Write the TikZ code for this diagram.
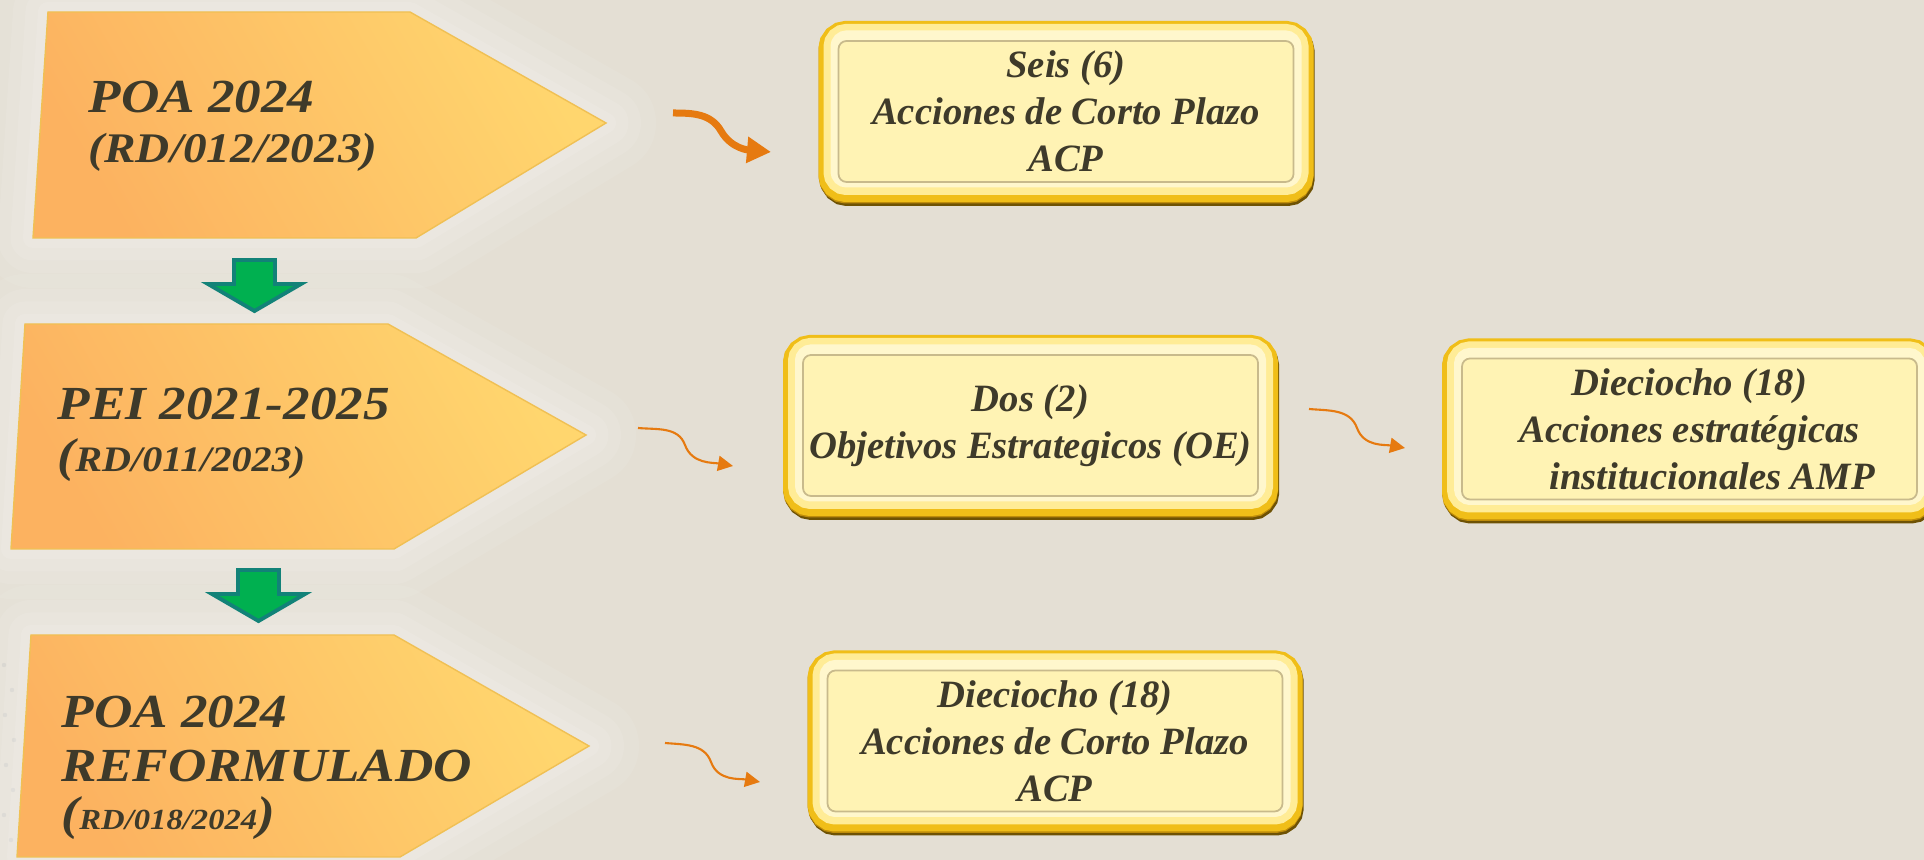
\documentclass[tikz,border=0pt]{standalone}
\usepackage{fontspec}
\newfontfamily\labelfont[FakeStretch=1.12]{Liberation Serif}
\newfontfamily\boxfont{Liberation Serif}
\usetikzlibrary{arrows.meta}

\definecolor{bg}{RGB}{228,223,212}
\definecolor{penttop}{RGB}{255,214,110}
\definecolor{pentbot}{RGB}{252,178,96}
\definecolor{pentline}{RGB}{240,192,84}
\definecolor{ink}{RGB}{62,58,42}
\definecolor{arrowor}{RGB}{230,122,16}
\definecolor{downfill}{RGB}{0,176,80}
\definecolor{downline}{RGB}{18,130,120}
\definecolor{boxfill}{RGB}{255,243,180}
\definecolor{boxline}{RGB}{200,186,140}
\definecolor{goldshade}{RGB}{110,82,4}
\definecolor{golddeep}{RGB}{190,140,10}
\definecolor{goldrim}{RGB}{240,190,24}
\definecolor{goldlight}{RGB}{255,236,150}
\definecolor{goldpale}{RGB}{255,247,205}

\tikzset{
  pentagon/.style={draw=pentline, line width=0.4pt,
    top color=penttop, bottom color=pentbot, shading angle=-60,
    preaction={draw=white, draw opacity=0.07, line width=1.0cm, line join=round},
    preaction={draw=white, draw opacity=0.08, line width=0.7cm, line join=round},
    preaction={draw=white, draw opacity=0.09, line width=0.45cm, line join=round},
    preaction={draw=white, draw opacity=0.10, line width=0.2cm, line join=round}},
  pentlabel/.style={anchor=base west, inner sep=0pt, text=ink,
    font=\labelfont\bfseries\itshape\fontsize{13.5}{16}\selectfont},
  goldbox/.style={rounded corners=0.08cm, minimum width=4.55cm, minimum height=1.41cm,
    inner sep=0pt, align=center, text=ink,
    font=\boxfont\bfseries\itshape\fontsize{11}{13.4}\selectfont,
    preaction={draw=goldshade, line width=0.40cm, transform canvas={xshift=0.012cm,yshift=-0.04cm}},
    preaction={draw=golddeep, line width=0.40cm, transform canvas={yshift=-0.015cm}},
    preaction={draw=goldrim, line width=0.40cm},
    preaction={draw=goldlight, line width=0.30cm, transform canvas={yshift=0.02cm}},
    preaction={draw=goldpale, line width=0.16cm, transform canvas={yshift=0.025cm}},
    fill=boxfill, draw=boxline, line width=0.5pt},
  downarrow/.style={fill=downfill, draw=downline, line width=1.1pt, line join=miter},
  curl/.style={draw=arrowor, line width=0.6pt, -{Triangle[length=0.15cm,width=0.15cm]}},
  bigcurl/.style={draw=arrowor, line width=0.07cm, -{Triangle[length=0.24cm,width=0.25cm]}},
}

\begin{document}
\begin{tikzpicture}[x=1cm,y=1cm]
  \useasboundingbox (0,0) rectangle (19.24,8.6);
  \fill[bg] (0,0) rectangle (19.24,8.6);

  % faint dots on the left margin
  \foreach \dx/\dy in {0.04/1.95, 0.12/1.70, 0.05/1.45, 0.14/1.20, 0.06/0.95, 0.13/0.70, 0.04/0.45, 0.11/0.20}
    \fill[gray!45, opacity=0.5] (\dx,\dy) circle (0.022);

  % the three pointed labels
  \path[pentagon] (0.48,8.48) -- (4.10,8.48) -- (6.06,7.37) -- (4.16,6.22) -- (0.33,6.22) -- cycle;
  \path[pentagon] (0.25,5.36) -- (3.88,5.36) -- (5.86,4.25) -- (3.94,3.11) -- (0.11,3.11) -- cycle;
  \path[pentagon] (0.31,2.25) -- (3.94,2.25) -- (5.89,1.14) -- (4.00,0.03) -- (0.17,0.03) -- cycle;

  \node[pentlabel] (poaA) at (0.88,7.47) {POA 2024};
  \node[pentlabel] (poaB) at (0.88,6.97) {\fontsize{12}{14}\selectfont(RD/012/2023)};
  \node[pentlabel] (peiA) at (0.57,4.40) {PEI 2021-2025};
  \node[pentlabel] (peiB) at (0.57,3.88) {(\fontsize{10.2}{12}\selectfont RD/011/2023)};
  \node[pentlabel] (refA) at (0.61,1.32) {POA 2024};
  \node[pentlabel] (refB) at (0.61,0.78) {REFORMULADO};
  \node[pentlabel] (refC) at (0.61,0.30) {({\fontsize{8.3}{10}\selectfont RD/018/2024})};

  % green down arrows
  \foreach \cx/\cy in {2.545/6.00, 2.585/2.90}
    \path[downarrow] (\cx-0.205,\cy) -- ++(0.41,0) -- ++(0,-0.24) -- ++(0.26,0)
      -- ++(-0.465,-0.27) -- ++(-0.465,0.27) -- ++(0.26,0) -- cycle;

  % boxes
  \node[goldbox] (seis) at (10.66,7.485) {Seis (6)\\Acciones de Corto Plazo\\ACP};
  \node[goldbox] (dos) at (10.305,4.345) {Dos (2)\\Objetivos Estrategicos (OE)};
  \node[goldbox] (amp) at (16.895,4.31) {Dieciocho (18)\\Acciones estratégicas\\\hspace*{0.45cm}institucionales AMP};
  \node[goldbox] (acpr) at (10.55,1.19) {Dieciocho (18)\\Acciones de Corto Plazo\\ACP};

  % curly connectors
  \coordinate (s1) at (6.73,7.47);  \coordinate (m1) at (7.21,7.29);  \coordinate (e1) at (7.71,7.08);
  \coordinate (s2) at (6.38,4.32);  \coordinate (m2) at (6.85,4.15);  \coordinate (e2) at (7.33,3.94);
  \coordinate (s3) at (13.09,4.51); \coordinate (m3) at (13.57,4.32); \coordinate (e3) at (14.05,4.12);
  \coordinate (s4) at (6.65,1.17);  \coordinate (m4) at (7.11,0.98);  \coordinate (e4) at (7.60,0.78);

  \draw[bigcurl] (s1) to[out=0,in=120] (m1) to[out=-60,in=175] (e1);
  \draw[curl] (s2) to[out=-5,in=110] (m2) to[out=-70,in=170] (e2);
  \draw[curl] (s3) to[out=-5,in=110] (m3) to[out=-70,in=170] (e3);
  \draw[curl] (s4) to[out=-5,in=110] (m4) to[out=-70,in=170] (e4);
\end{tikzpicture}
\end{document}
